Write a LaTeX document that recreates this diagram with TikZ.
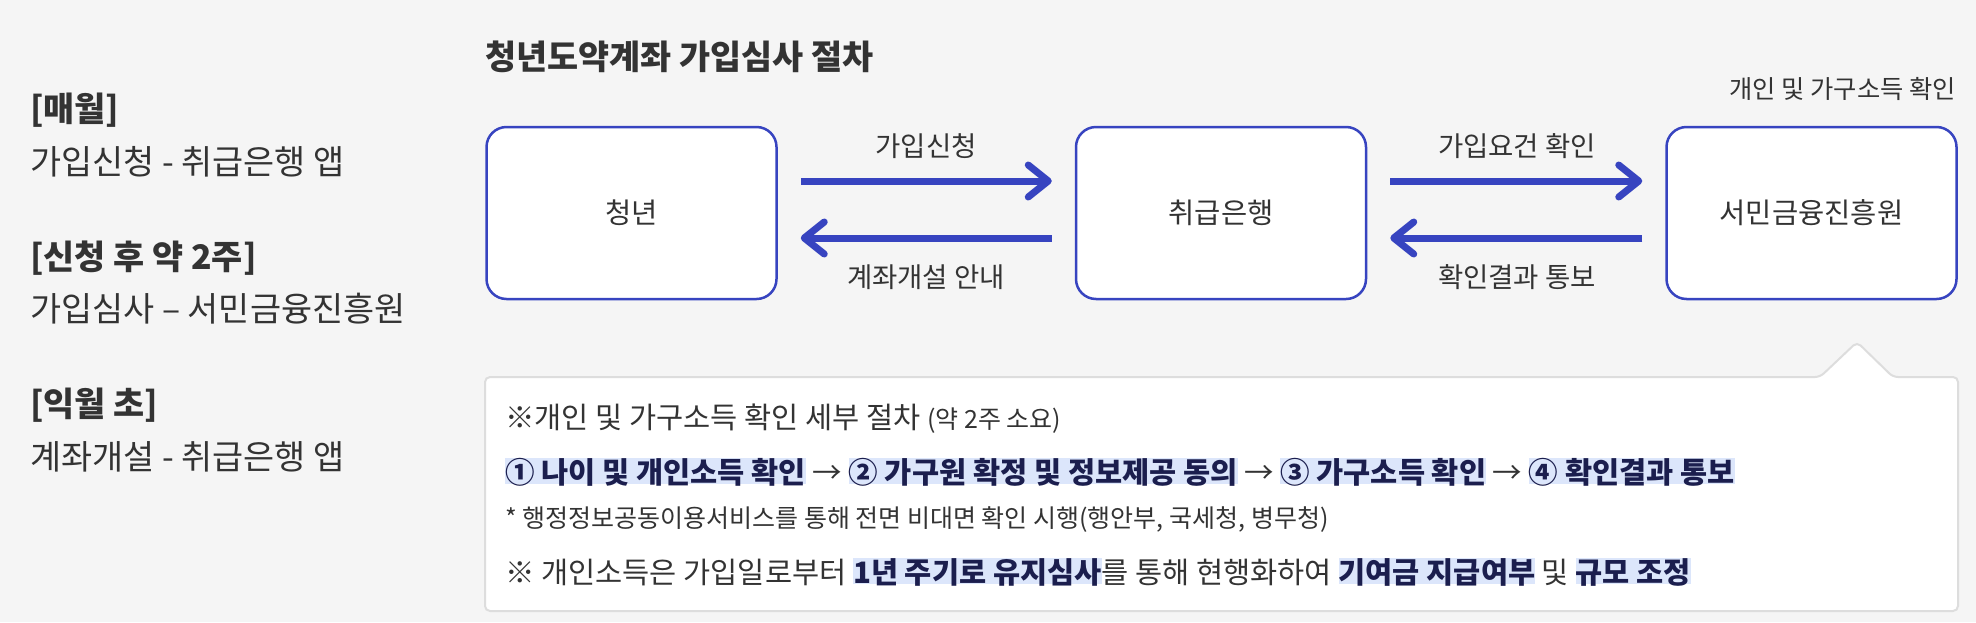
\documentclass[tikz,border=0pt]{standalone}
\usepackage{fontspec}
\setmainfont{Noto Sans CJK KR}
\usetikzlibrary{arrows.meta}

\definecolor{pagegray}{HTML}{F5F5F5}
\definecolor{textgray}{HTML}{333333}
\definecolor{flowblue}{HTML}{3744C0}
\definecolor{notegray}{HTML}{DDDDDD}
\definecolor{markblue}{HTML}{DCE6FB}
\definecolor{inkblue}{HTML}{1B1E4E}

% highlighted bold phrase
\newcommand\markbold[1]{{\setlength{\fboxsep}{0pt}\colorbox{markblue}{\rule[0.1em]{0pt}{0.78em}\smash{\textbf{\color{inkblue}#1}}}}}

\begin{document}
\begin{tikzpicture}[x=1pt,y=-1pt,
  stepbox/.style={draw=flowblue, line width=2.5pt, fill=white, rounded corners=20pt,
    minimum width=290pt, minimum height=172pt, text=textgray,
    font=\fontsize{28.5}{32}\selectfont},
  flow/.style={draw=flowblue, line width=7pt,
    -{Straight Barb[round,length=20pt,width=32pt]}},
  flowlabel/.style={inner sep=0pt, text=textgray, font=\fontsize{27.5}{32}\selectfont},
  sidelabel/.style={anchor=west, inner sep=0pt, text=textgray, font=\fontsize{33.8}{38}\selectfont},
  noteline/.style={anchor=west, inner sep=0pt, text=textgray, font=\fontsize{29.5}{34}\selectfont}]

\useasboundingbox (0,0) rectangle (1976,622);
\fill[pagegray] (0,0) rectangle (1976,622);

% Schedule
\node[sidelabel] (monthly) at (30,110) {\textbf{[매월]}};
\node[sidelabel] (monthlytxt) at (30,162) {가입신청 - 취급은행 앱};
\node[sidelabel] (twoweeks) at (30,258) {\textbf{[신청 후 약 2주]}};
\node[sidelabel] (twoweekstxt) at (30,309) {가입심사 – 서민금융진흥원};
\node[sidelabel] (nextmonth) at (30,405) {\textbf{[익월 초]}};
\node[sidelabel] (nextmonthtxt) at (30,457) {계좌개설 - 취급은행 앱};

% Title
\node[sidelabel] (title) at (485,57) {\textbf{청년도약계좌 가입심사 절차}};

% Parties
\node[stepbox] (youth) at (631.5,213) {청년};
\node[stepbox] (bank) at (1221,213) {취급은행};
\node[stepbox] (agency) at (1811.5,213) {서민금융진흥원};

\node[flowlabel, anchor=east, font=\fontsize{25.3}{30}\selectfont] (incomelbl) at (1956,89)
{개인 및 가구소득 확인};

% Flows
\draw[flow] ([xshift=23pt,yshift=32pt]youth.east) -- ([xshift=-23pt,yshift=32pt]bank.west);
\draw[flow] ([xshift=-23pt,yshift=-25pt]bank.west) -- ([xshift=23pt,yshift=-25pt]youth.east);
\draw[flow] ([xshift=23pt,yshift=32pt]bank.east) -- ([xshift=-23pt,yshift=32pt]agency.west);
\draw[flow] ([xshift=-23pt,yshift=-25pt]agency.west) -- ([xshift=23pt,yshift=-25pt]bank.east);

\node[flowlabel] (applylbl) at (926,146) {가입신청};
\node[flowlabel] (openlbl) at (926,277) {계좌개설 안내};
\node[flowlabel] (reqlbl) at (1517,146) {가입요건 확인};
\node[flowlabel] (resultlbl) at (1517,277) {확인결과 통보};

% Detail note
\draw[notegray, line width=2pt, fill=white, rounded corners=5pt]
  (485,377) -- (1820,377) -- (1857,342) -- (1893,377) -- (1958,377)
  -- (1958,611) -- (485,611) -- cycle;

\node[noteline] (note1) at (505,419)
{※개인 및 가구소득 확인 세부 절차 {\fontsize{25}{30}\selectfont (약 2주 소요)}};
\node[noteline] (note2) at (505,471)
{\markbold{① 나이 및 개인소득 확인} → \markbold{② 가구원 확정 및 정보제공 동의} → \markbold{③ 가구소득 확인} → \markbold{④ 확인결과 통보}};
\node[noteline, font=\fontsize{25}{30}\selectfont] (note3) at (505,520)
{* 행정정보공동이용서비스를 통해 전면 비대면 확인 시행(행안부, 국세청, 병무청)};
\node[noteline] (note4) at (505,572)
{※ 개인소득은 가입일로부터 \markbold{1년 주기로 유지심사}를 통해 현행화하여 \markbold{기여금 지급여부} 및 \markbold{규모 조정}};

\end{tikzpicture}
\end{document}
